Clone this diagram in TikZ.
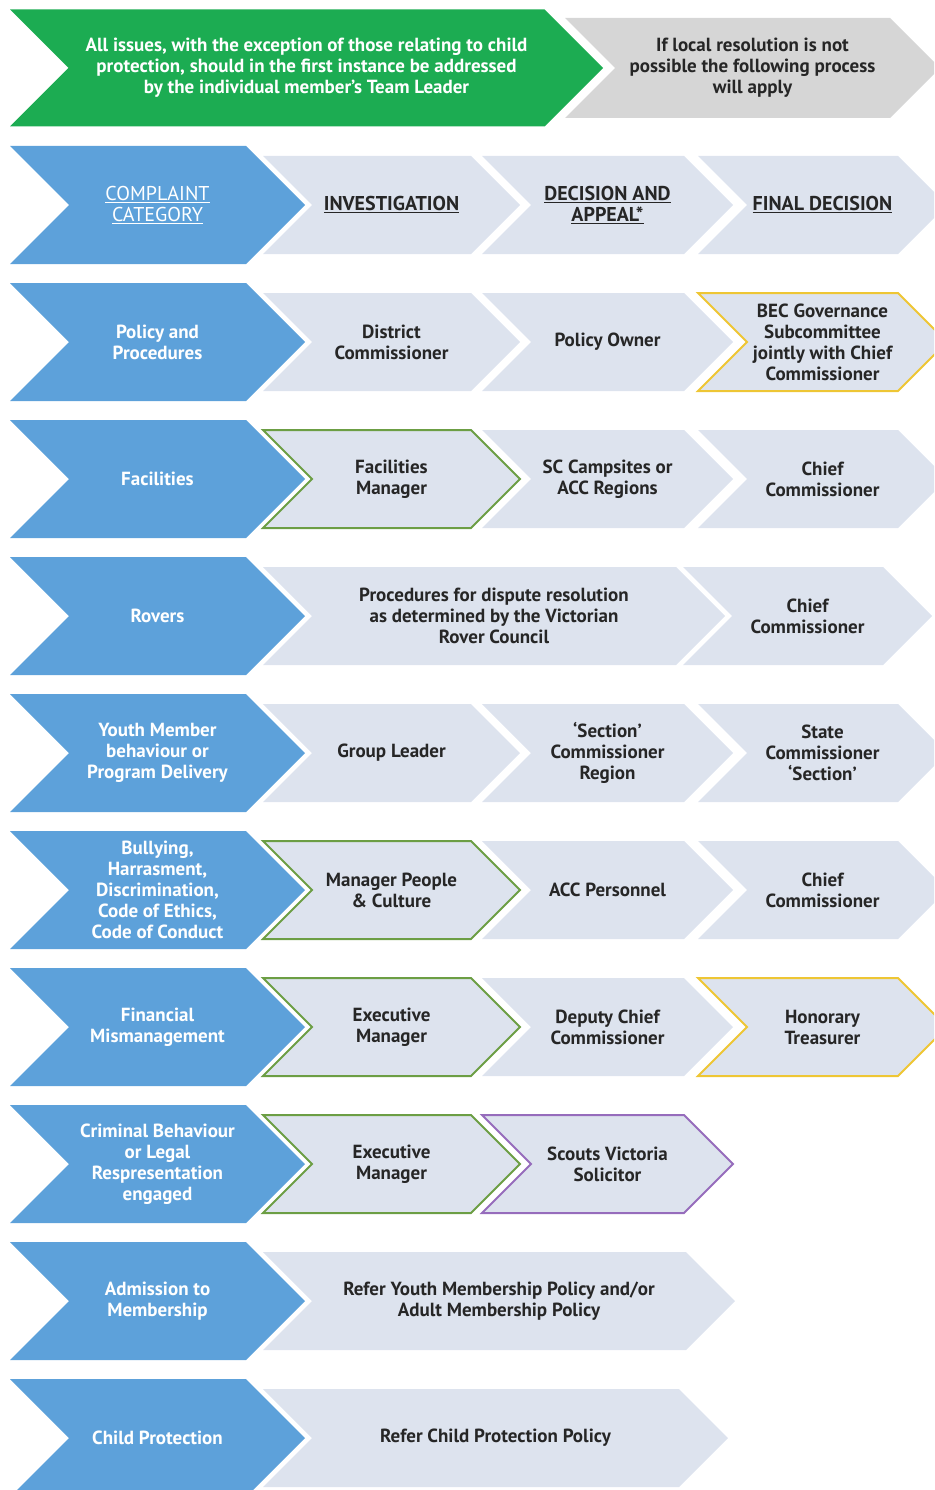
\documentclass[tikz,border=0pt]{standalone}
\usepackage{fontspec}
\setmainfont{PT Sans}

\definecolor{catblue}{RGB}{93,161,218}
\definecolor{stepgray}{RGB}{221,227,238}
\definecolor{startgreen}{RGB}{28,172,82}
\definecolor{notegray}{RGB}{214,214,214}
\definecolor{ownergreen}{RGB}{108,158,68}
\definecolor{ownergold}{RGB}{238,198,52}
\definecolor{ownerpurple}{RGB}{150,108,188}
\definecolor{inkgray}{RGB}{38,38,38}

% chevron: style, name, left x, tip x, mid y, half height, text
\newcommand{\chev}[7]{%
  \path[#1] (#3,#5-#6) -- (#4-#6,#5-#6) -- (#4,#5) -- (#4-#6,#5+#6)
    -- (#3,#5+#6) -- (#3+#6,#5) -- cycle
    ({(#3+#4)/2},#5) node (#2) {#7};
}
\newcommand{\hd}[1]{\fontsize{20}{19}\selectfont\underline{#1}}

\begin{document}
\begin{tikzpicture}[x=1pt, y=-1pt,
    font=\fontsize{19}{21}\selectfont\bfseries,
    catbox/.style={fill=catblue, text=white, align=center},
    stepbox/.style={fill=stepgray, text=inkgray, align=center},
    ownerbox/.style={stepbox, draw=#1, line width=2pt},
    startbox/.style={fill=startgreen, text=white, align=center},
    notebox/.style={fill=notegray, text=inkgray, align=center}]
  \useasboundingbox (0,0) rectangle (934,1490);
  \clip (0,0) rectangle (934,1490);

  \chev{notebox}{note}{565}{940}{68}{50}{If local resolution is not\\possible the following process\\will apply}
  \chev{startbox}{start}{10}{603}{68}{58.5}{All issues, with the exception of those relating to child\\protection, should in the first instance be addressed\\by the individual member's Team Leader}

  \foreach \y/\txt [count=\i] in {
      205/{\mdseries\hd{COMPLAINT}\\\mdseries\hd{CATEGORY}},
      342/{Policy and\\Procedures},
      479/{Facilities},
      616/{Rovers},
      753/{Youth Member\\behaviour or\\Program Delivery},
      890/{Bullying,\\Harrasment,\\Discrimination,\\Code of Ethics,\\Code of Conduct},
      1027/{Financial\\Mismanagement},
      1164/{Criminal Behaviour\\or Legal\\Respresentation\\engaged},
      1301/{Admission to\\Membership},
      1438/{Child Protection}}{
    \chev{catbox}{cat\i}{10}{305}{\y}{59}{\txt}
  }

  \chev{stepbox}{inv1}{263}{520}{205}{49}{\hd{INVESTIGATION}}
  \chev{stepbox}{dec1}{482}{733}{205}{49}{\hd{DECISION AND}\\\hd{APPEAL*}}
  \chev{stepbox}{fin1}{698}{947}{205}{49}{\hd{FINAL DECISION}}

  \chev{stepbox}{inv2}{263}{520}{342}{49}{District\\Commissioner}
  \chev{stepbox}{dec2}{482}{733}{342}{49}{Policy Owner}
  \chev{ownerbox=ownergold}{fin2}{698}{947}{342}{49}{BEC Governance\\Subcommittee\\jointly with Chief\\Commissioner}

  \chev{ownerbox=ownergreen}{inv3}{263}{520}{479}{49}{Facilities\\Manager}
  \chev{stepbox}{dec3}{482}{733}{479}{49}{SC Campsites or\\ACC Regions}
  \chev{stepbox}{fin3}{698}{947}{479}{49}{Chief\\Commissioner}

  \chev{stepbox}{inv4}{263}{725}{616}{49}{Procedures for dispute resolution\\as determined by the Victorian\\Rover Council}
  \chev{stepbox}{fin4}{683}{932}{616}{49}{Chief\\Commissioner}

  \chev{stepbox}{inv5}{263}{520}{753}{49}{Group Leader}
  \chev{stepbox}{dec5}{482}{733}{753}{49}{`Section'\\Commissioner\\Region}
  \chev{stepbox}{fin5}{698}{947}{753}{49}{State\\Commissioner\\`Section'}

  \chev{ownerbox=ownergreen}{inv6}{263}{520}{890}{49}{Manager People\\\& Culture}
  \chev{stepbox}{dec6}{482}{733}{890}{49}{ACC Personnel}
  \chev{stepbox}{fin6}{698}{947}{890}{49}{Chief\\Commissioner}

  \chev{ownerbox=ownergreen}{inv7}{263}{520}{1027}{49}{Executive\\Manager}
  \chev{stepbox}{dec7}{482}{733}{1027}{49}{Deputy Chief\\Commissioner}
  \chev{ownerbox=ownergold}{fin7}{698}{947}{1027}{49}{Honorary\\Treasurer}

  \chev{ownerbox=ownergreen}{inv8}{263}{520}{1164}{49}{Executive\\Manager}
  \chev{ownerbox=ownerpurple}{dec8}{482}{733}{1164}{49}{Scouts Victoria\\Solicitor}

  \chev{stepbox}{inv9}{263}{735}{1301}{49}{Refer Youth Membership Policy and/or\\Adult Membership Policy}
  \chev{stepbox}{inv10}{263}{728}{1438}{49}{Refer Child Protection Policy}
\end{tikzpicture}
\end{document}
